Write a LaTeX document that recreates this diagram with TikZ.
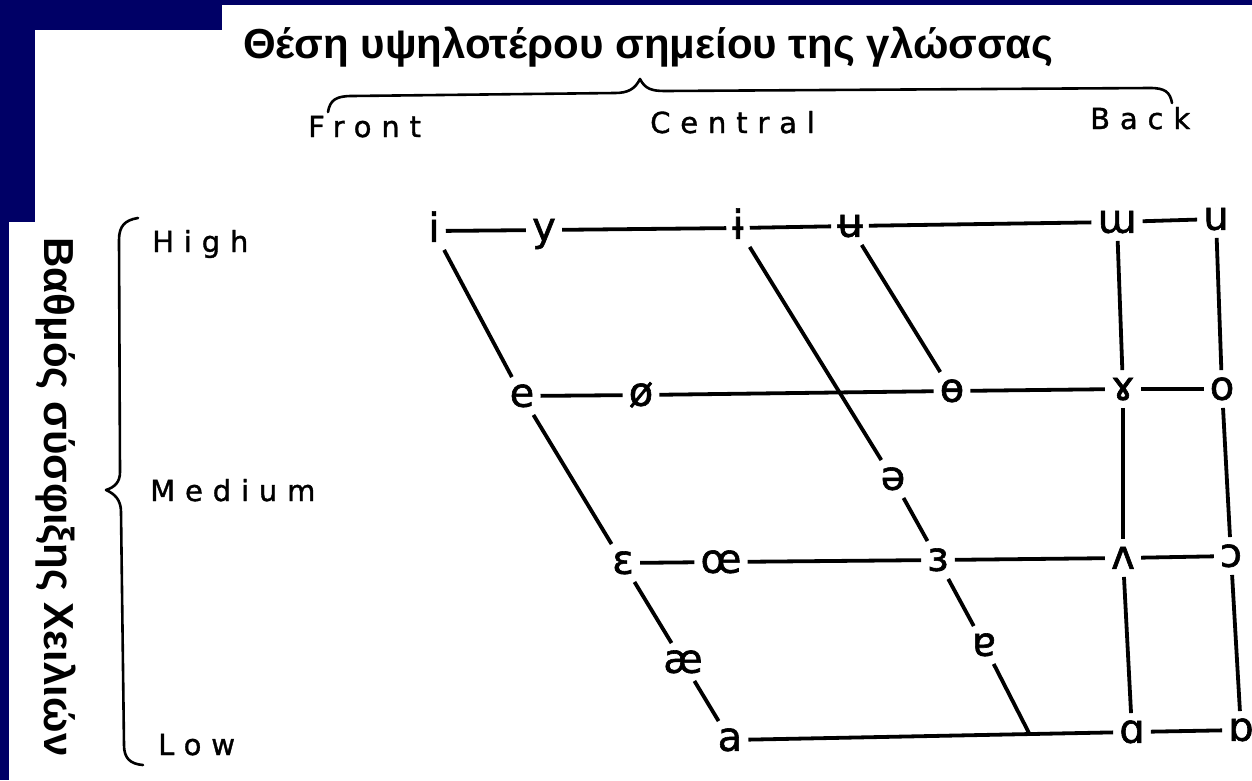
\documentclass[tikz,border=0pt]{standalone}
\usepackage{fontspec}
\setmainfont{Liberation Sans}
\newfontfamily\ipafont[FakeBold=1.5]{DejaVu Sans}
\newfontfamily\lblfont[LetterSpace=34,FakeBold=1.2]{DejaVu Sans}
\definecolor{navy}{RGB}{0,0,102}
\begin{document}
\begin{tikzpicture}[x=1pt,y=-1pt,
  v/.style={font=\ipafont\fontsize{40}{40}\selectfont, inner xsep=6pt, inner ysep=8pt, text height=21.5pt, text depth=0pt, anchor=center},
  ln/.style={line width=3.8pt, line cap=butt},
  lblA/.style={font=\lblfont\fontsize{29}{29}\selectfont, anchor=base west, inner sep=0pt},
  lblB/.style={font=\lblfont\fontsize{29}{29}\selectfont, anchor=base west, inner sep=0pt},
  brace/.style={line width=2.6pt, line cap=round, line join=round},
  ttl/.style={font=\bfseries\fontsize{42}{44}\selectfont, inner sep=0pt},
  sidettl/.style={font=\bfseries\fontsize{42}{44}\selectfont, inner sep=0pt}
]
\useasboundingbox (0,0) rectangle (1252,780);
\fill[navy] (0,0) rectangle (1252,780);
\fill[white] (222,5) -- (1252,5) -- (1252,780) -- (9,780) -- (9,222) -- (35,222) -- (35,30) -- (222,30) -- cycle;

% titles
\node[ttl, anchor=base west] (title) at (243,58) {Θέση υψηλοτέρου σημείου της γλώσσας};
\node[sidettl, rotate=-90, anchor=base] (side) at (44,497) {Βαθμός σύσφιξης Χειλιών};

% column labels
\node[lblA] (front) at (308,137) {Front};
\node[lblA] (central) at (650,133) {Central};
\node[lblA] (back) at (1090,129) {Back};
% row labels
\node[lblB] (high) at (152,252) {High};
\node[lblB] (medium) at (150,501) {Medium};
\node[lblB] (low) at (158,755) {Low};

% braces
\draw[brace] (328,112) .. controls (330,100) and (336,96) .. (352,96) -- (615,93) .. controls (628,93) and (635,89) .. (640,79) .. controls (645,89) and (652,91) .. (665,91) -- (1150,88) .. controls (1165,88) and (1170,92) .. (1172,103);
\draw[brace] (138,218) .. controls (125,220) and (119,226) .. (119,240) -- (120,472) .. controls (120,482) and (115,487) .. (106,490) .. controls (115,494) and (121,500) .. (121,512) -- (124,745) .. controls (124,758) and (130,764) .. (143,765);

% vowels: high row
\node[v] (i) at (434,231) {i};
\node[v] (y) at (544,230) {y};
\node[v] (ibar) at (738,228) {ɨ};
\node[v] (ubar) at (850,226) {ʉ};
\node[v] (mturn) at (1117,222) {ɯ};
\node[v] (u) at (1216,219) {u};
% high-mid row
\node[v] (e) at (522,396) {e};
\node[v] (oslash) at (641,395) {ø};
\node[v] (obar) at (952,391) {ɵ};
\node[v] (ram) at (1123,389) {ɤ};
\node[v] (o) at (1222,389) {o};
% mid
\node[v] (schwa) at (893,479) {ə};
% low-mid row
\node[v] (eps) at (623,563) {ɛ};
\node[v] (oe) at (721,562) {œ};
\node[v] (reps) at (938,560) {ɜ};
\node[v] (wedge) at (1123,558) {ʌ};
\node[v] (openo) at (1231,556) {ɔ};
% near-low
\node[v] (ae) at (683,662) {æ};
\node[v] (turna) at (984,645) {ɐ};
% low row
\node[v] (a) at (730,740) {a};
\node[v] (scripta) at (1132,732) {ɑ};
\node[v] (turnsa) at (1241,730) {ɒ};
\coordinate (J) at (1030,735);

% horizontal lines
\draw[ln] (i) -- (y);
\draw[ln] (y) -- (ibar);
\draw[ln] (ibar) -- (ubar);
\draw[ln] (ubar) -- (mturn);
\draw[ln] (mturn) -- (u);
\draw[ln] (e) -- (oslash);
\draw[ln] (oslash) -- (obar);
\draw[ln] (obar) -- (ram);
\draw[ln] (ram) -- (o);
\draw[ln] (eps) -- (oe);
\draw[ln] (oe) -- (reps);
\draw[ln] (reps) -- (wedge);
\draw[ln] (wedge) -- (openo);
\draw[ln] (a) -- (scripta);
\draw[ln] (scripta) -- (turnsa);
% diagonals
\draw[ln] (i) -- (e);
\draw[ln] (e) -- (eps);
\draw[ln] (eps) -- (ae);
\draw[ln] (ae) -- (a);
\draw[ln] (ibar) -- (schwa);
\draw[ln] (schwa) -- (reps);
\draw[ln] (reps) -- (turna);
\draw[ln] (turna) -- (J);
\draw[ln] (ubar) -- (obar);
% verticals
\draw[ln] (mturn) -- (ram);
\draw[ln] (ram) -- (wedge);
\draw[ln] (wedge) -- (scripta);
\draw[ln] (u) -- (o);
\draw[ln] (o) -- (openo);
\draw[ln] (openo) -- (turnsa);
\end{tikzpicture}
\end{document}
